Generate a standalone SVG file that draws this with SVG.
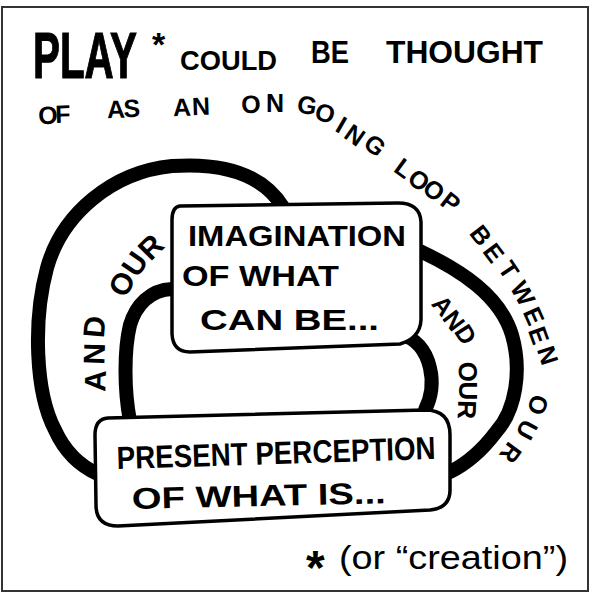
<svg xmlns="http://www.w3.org/2000/svg" width="592" height="596" viewBox="0 0 592 596">
  <style>
    .hand { font-family: "Liberation Sans", Arial, sans-serif; font-weight: bold; fill: #000; }
    .note { font-family: "Liberation Sans", Arial, sans-serif; font-weight: normal; fill: #000; }
    .arc-word { font-size: 25px; }
    .loop { fill: none; stroke: #000; stroke-width: 14; stroke-linecap: round; stroke-linejoin: round; }
    .box { fill: #fff; stroke: #000; stroke-width: 3.5; stroke-linejoin: round; }
  </style>

  <!-- paper and frame -->
  <rect x="0" y="0" width="592" height="596" fill="#fff"/>
  <rect x="2" y="7" width="586" height="584" fill="none" stroke="#333" stroke-width="2"/>

  <!-- heading -->
  <g id="heading">
    <!-- tall narrow lettering: squeeze the word horizontally -->
    <text class="hand" font-size="64" stroke="#000" stroke-width="1.2" transform="translate(33 78) scale(0.63 1)">PLAY</text>
    <text class="hand" x="152" y="56" font-size="34">*</text>
    <text class="hand"><tspan x="180" y="70" font-size="28" textLength="97" lengthAdjust="spacingAndGlyphs">COULD</tspan>
      <tspan x="311" y="63" font-size="31" textLength="38" lengthAdjust="spacingAndGlyphs">BE</tspan>
      <tspan x="386" y="63" font-size="31" textLength="157" lengthAdjust="spacingAndGlyphs">THOUGHT</tspan></text>
  </g>

  <!-- the sentence bends round the loop: each glyph placed and turned on its own -->
  <g id="loop-sentence">
    <text class="hand arc-word" x="38.6 55.5" y="124.2 123.1" rotate="-2 -2">OF</text>
    <text class="hand arc-word" x="107.2 123.8" y="118.2 117.2" rotate="-2 -2">AS</text>
    <text class="hand arc-word" x="173.2 192.2" y="116.2 115.2" rotate="-2 -2">AN</text>
    <text class="hand arc-word" x="241.6 266.0 295.9 312.9 334.0 342.5 361.9" y="113.2 111.9 112.1 118.0 130.6 137.1 145.7" rotate="-2 0 10 20 30 35 40">ONGOING</text>
    <text class="hand arc-word" x="392.4 405.9 420.9 438.8" y="170.7 181.6 191.6 203.9" rotate="36 36 36 38">LOOP</text>
    <text class="hand arc-word" x="468.4 481.8 497.2 509.5 522.5 527.8 536.8" y="233.4 251.6 268.6 287.3 312.1 330.4 349.5" rotate="52 53 56 61 66 70 72">BETWEEN</text>
    <text class="hand arc-word" x="532.7 523.4 508.9" y="392.9 417.8 440.5" rotate="108 118 126">OUR</text>
  </g>

  <!-- loop strokes joining the two boxes -->
  <g id="connectors">
    <path class="loop" d="M 283,207 C 260,170 215,163 172,166 C 112,172 62,214 47,268 C 33,320 35,392 55,430 C 65,452 80,466 98,474"/>
    <path class="loop" d="M 172,289 C 150,290 136,305 130,325 C 124,350 124,390 130,421"/>
    <path class="loop" d="M 400,334 C 415,338 426,350 430,368 C 434,385 431,398 425,410"/>
    <path class="loop" d="M 420,251 C 460,270 500,295 512,335 C 522,370 516,410 496,432 C 484,448 470,462 450,472"/>
  </g>

  <!-- words riding along the left and right loops -->
  <g id="loop-labels">
    <text class="hand" font-size="30" x="105.3 104.3 103.8" y="392.1 365.1 338.6" rotate="-88 -88 -85">AND</text>
    <text class="hand" font-size="30" x="125.4 137.1 150.6" y="299.0 278.7 261.9" rotate="-62 -55 -45">OUR</text>
    <text class="hand" font-size="25" x="430.4 441.4 453.6" y="304.2 318.6 331.5" rotate="50 53 58">AND</text>
    <text class="hand" font-size="26" x="458.6 458.8 458.2" y="362.0 381.4 400.1" rotate="88 90 92">OUR</text>
  </g>

  <!-- upper box -->
  <g id="node-imagination">
    <path class="box" d="M 180,206 L 398,203 Q 420,203 421,222 L 421,320 Q 420,338 400,344 L 190,352 Q 173,352 172,334 L 172,220 Q 172,207 180,206 Z"/>
    <text class="hand" font-size="30">
      <tspan x="188" y="246" textLength="218" lengthAdjust="spacingAndGlyphs">IMAGINATION</tspan>
      <tspan x="182" y="286" textLength="157" lengthAdjust="spacingAndGlyphs">OF WHAT</tspan>
      <tspan x="200" y="330" textLength="179" lengthAdjust="spacingAndGlyphs">CAN BE...</tspan>
    </text>
  </g>

  <!-- lower box -->
  <g id="node-perception">
    <path class="box" d="M 108,418 L 425,410 Q 450,410 450,435 L 450,490 Q 450,508 430,510 L 118,526 Q 96,526 96,505 L 95,435 Q 95,419 108,418 Z"/>
    <text class="hand" font-size="32" transform="rotate(-1.8 117 469)" x="117" y="469" textLength="319" lengthAdjust="spacingAndGlyphs">PRESENT PERCEPTION</text>
    <text class="hand" font-size="30" transform="rotate(-1.3 132 509)" x="132" y="509" textLength="254" lengthAdjust="spacingAndGlyphs">OF WHAT IS...</text>
  </g>

  <!-- footnote -->
  <g id="footnote">
    <text class="note"><tspan x="306" y="584" font-size="48" font-weight="bold">*</tspan><tspan x="339" y="569" font-size="34" textLength="229" lengthAdjust="spacingAndGlyphs">(or “creation”)</tspan></text>
  </g>
</svg>
